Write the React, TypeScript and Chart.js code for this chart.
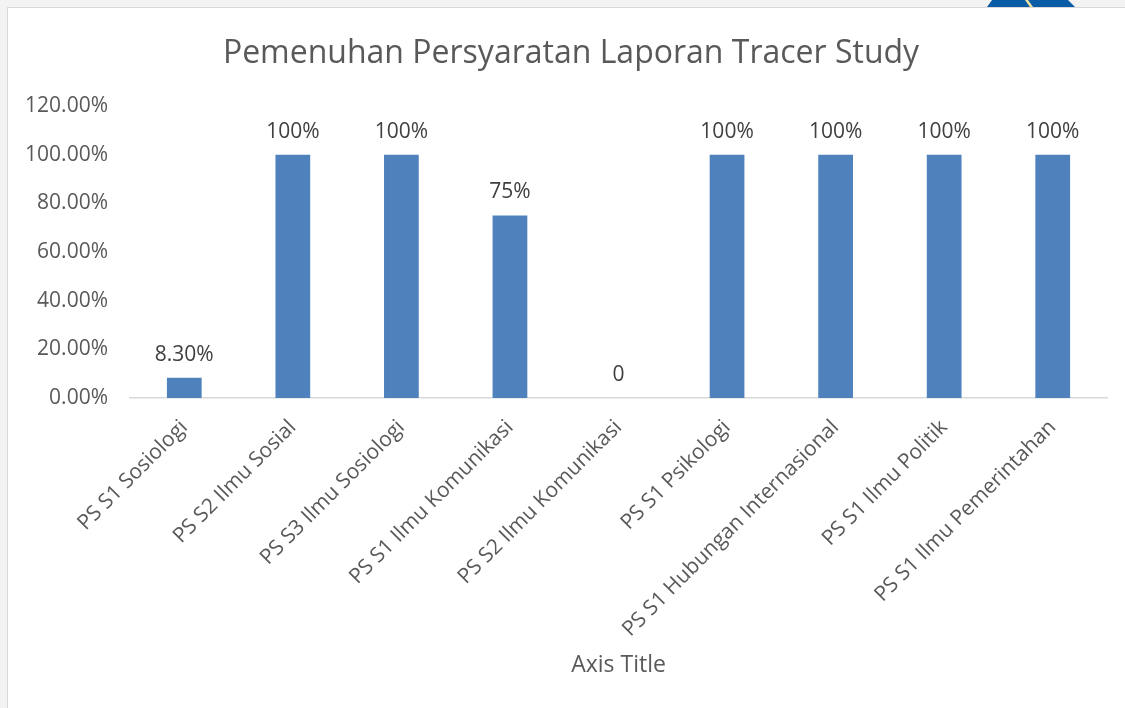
import React, { useEffect, useRef } from "react";
import { Chart, registerables } from "chart.js";

Chart.register(...registerables);

const TITLE = "Pemenuhan Persyaratan Laporan Tracer Study";
const X_TITLE = "Axis Title";
const categories = [
  "PS S1 Sosiologi",
  "PS S2 Ilmu Sosial",
  "PS S3 Ilmu Sosiologi",
  "PS S1 Ilmu Komunikasi",
  "PS S2 Ilmu Komunikasi",
  "PS S1 Psikologi",
  "PS S1 Hubungan Internasional",
  "PS S1 Ilmu Politik",
  "PS S1 Ilmu Pemerintahan",
];
const values = [0.083, 1, 1, 0.75, 0, 1, 1, 1, 1];
const valueLabels = ["8.30%", "100%", "100%", "75%", "0", "100%", "100%", "100%", "100%"];
const yMin = 0;
const yMax = 1.2;
const yStep = 0.2;

const FONT = "'Open Sans', 'DejaVu Sans', sans-serif";

const dataLabelPlugin = {
  id: "dataLabels",
  afterDatasetsDraw(chart: any) {
    const ctx = chart.ctx;
    const meta = chart.getDatasetMeta(0);
    ctx.save();
    ctx.font = `21px ${FONT}`;
    ctx.fillStyle = "#404040";
    ctx.textAlign = "center";
    ctx.textBaseline = "middle";
    meta.data.forEach((el: any, i: number) => {
      ctx.fillText(valueLabels[i], el.x, el.y - 23);
    });
    ctx.restore();
  },
};

export default function App() {
  const ref = useRef<HTMLCanvasElement | null>(null);
  useEffect(() => {
    if (!ref.current) return;
    const chart = new Chart(ref.current, {
      type: "bar",
      data: {
        labels: categories,
        datasets: [
          {
            data: values,
            backgroundColor: "#4F81BD",
            borderWidth: 0,
            categoryPercentage: 1,
            barPercentage: 0.32,
          },
        ],
      },
      options: {
        responsive: false,
        animation: false,
        layout: { padding: { left: 35, right: 18, top: 0, bottom: 0 } },
        plugins: {
          legend: { display: false },
          tooltip: { enabled: false },
          title: {
            display: true,
            text: TITLE,
            color: "#595959",
            font: { family: FONT, size: 32, weight: "normal", lineHeight: 1.2 },
            padding: { top: 34.5, bottom: 33.1 },
          },
        },
        scales: {
          x: {
            grid: { display: false, drawTicks: false },
            border: { display: true, color: "#d9d9d9", width: 1.5 },
            ticks: {
              autoSkip: false,
              minRotation: 45,
              maxRotation: 45,
              padding: 17,
              color: "#595959",
              font: { family: FONT, size: 21 },
            },
            title: {
              display: true,
              text: X_TITLE,
              color: "#595959",
              font: { family: FONT, size: 23, lineHeight: 1.2 },
              padding: { top: 0, bottom: 29 },
            },
            afterFit(s: any) {
              s.height = 310;
            },
          },
          y: {
            min: yMin,
            max: yMax,
            grid: { display: false, drawTicks: false },
            border: { display: false },
            ticks: {
              stepSize: yStep,
              padding: 22,
              color: "#595959",
              font: { family: FONT, size: 21 },
              callback: (v: any) => (Number(v) * 100).toFixed(2) + "%",
            },
            afterFit(s: any) {
              s.width = 95;
              s._computeLabelArea = () => undefined;
            },
          },
        },
      },
      plugins: [dataLabelPlugin],
    } as any);
    return () => chart.destroy();
  }, []);

  return (
    <div style={{ position: "fixed", left: 0, top: 0, width: 1125, height: 708, background: "#f3f3f3", overflow: "hidden" }}>
      <div
        style={{
          position: "absolute",
          left: 7,
          top: 7,
          width: 1118,
          height: 701,
          background: "#ffffff",
          borderLeft: "1px solid #d9d9d9",
          borderTop: "1px solid #d9d9d9",
          boxSizing: "border-box",
        }}
      />
      <svg style={{ position: "absolute", left: 0, top: 0 }} width={1125} height={8}>
        <polygon points="992,0 1068,0 1075,7 987,7" fill="#0b5ca6" />
        <polygon points="1025,0 1028,0 1033,7 1030,7" fill="#f3e3a0" />
      </svg>
      <canvas ref={ref} width={1125} height={708} style={{ position: "absolute", left: 0, top: 0, width: 1125, height: 708 }} />
    </div>
  );
}
